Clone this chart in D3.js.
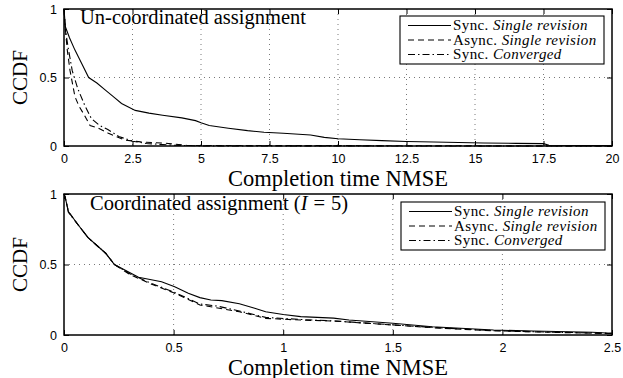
<!DOCTYPE html>
<html>
<head>
<meta charset="utf-8">
<script src="https://cdn.jsdelivr.net/npm/d3@7"></script>
<style>
  body { margin: 0; background: #fff; }
  svg { display: block; }
  .tick text { font-family: "Liberation Sans", Arial, sans-serif; font-size: 12.5px; }
  .serif { font-family: "Liberation Serif", "Times New Roman", serif; }
</style>
</head>
<body>
<div id="chart"></div>
<script>
// Top panel: un-coordinated assignment
const topSyncX = [0, 0.05, 0.2, 0.4, 0.65, 0.9, 1.2, 1.5, 1.8, 2.1, 2.6, 3.1, 3.6, 4.3, 4.8, 5.0, 5.3, 6.0, 6.7, 7.3, 8.0, 9.0, 9.5, 10, 10.8, 11.6, 12.5, 13.5, 15.3, 16.5, 17.5, 17.7, 20];
const topSyncY = [1, 0.87, 0.79, 0.70, 0.6, 0.5, 0.46, 0.41, 0.36, 0.31, 0.26, 0.24, 0.225, 0.205, 0.185, 0.17, 0.15, 0.13, 0.112, 0.1, 0.093, 0.08, 0.063, 0.053, 0.046, 0.039, 0.033, 0.029, 0.022, 0.019, 0.017, 0.005, 0.003];
const topAsyncX = [0, 0.05, 0.12, 0.22, 0.4, 0.55, 0.7, 0.95, 1.25, 1.6, 2.2, 2.8, 3.7, 4.5, 20];
const topAsyncY = [1, 0.85, 0.7, 0.55, 0.36, 0.29, 0.24, 0.15, 0.13, 0.095, 0.044, 0.03, 0.02, 0.004, 0];
const topConvX = [0, 0.05, 0.15, 0.3, 0.5, 0.75, 1.0, 1.3, 1.6, 2.0, 2.5, 3.0, 4.0, 5.0, 20];
const topConvY = [1, 0.85, 0.72, 0.55, 0.42, 0.3, 0.2, 0.15, 0.12, 0.07, 0.035, 0.018, 0.006, 0.001, 0];

// Bottom panel: coordinated assignment (I = 5)
const botSyncX = [0, 0.005, 0.02, 0.065, 0.11, 0.19, 0.23, 0.34, 0.445, 0.505, 0.567, 0.62, 0.67, 0.72, 0.8, 0.87, 0.92, 1.0, 1.08, 1.23, 1.3, 1.5, 1.68, 1.96, 2.14, 2.41, 2.5];
const botSyncY = [1, 0.98, 0.875, 0.78, 0.69, 0.58, 0.5, 0.41, 0.378, 0.343, 0.296, 0.265, 0.248, 0.244, 0.222, 0.19, 0.165, 0.145, 0.13, 0.12, 0.106, 0.083, 0.059, 0.035, 0.028, 0.019, 0.012];
const botAsyncX = [0, 0.005, 0.02, 0.065, 0.11, 0.19, 0.23, 0.3, 0.4, 0.5, 0.62, 0.67, 0.8, 0.92, 1.08, 1.23, 1.5, 1.7, 1.96, 2.2, 2.5];
const botAsyncY = [1, 0.98, 0.875, 0.78, 0.69, 0.58, 0.5, 0.43, 0.36, 0.3, 0.213, 0.2, 0.165, 0.118, 0.106, 0.099, 0.071, 0.05, 0.03, 0.02, 0.01];
const botConvX = [0, 0.005, 0.02, 0.065, 0.11, 0.19, 0.23, 0.3, 0.4, 0.5, 0.62, 0.7, 0.8, 0.92, 1.08, 1.23, 1.5, 1.7, 1.96, 2.2, 2.5];
const botConvY = [1, 0.98, 0.87, 0.78, 0.69, 0.58, 0.5, 0.435, 0.365, 0.305, 0.22, 0.205, 0.17, 0.125, 0.11, 0.1, 0.072, 0.052, 0.031, 0.021, 0.012];

const topXTicks = [0, 2.5, 5, 7.5, 10, 12.5, 15, 17.5, 20];
const botXTicks = [0, 0.5, 1, 1.5, 2, 2.5];
const yTicks = [0, 0.5, 1];
const seriesNames = [["Sync. ", "Single revision"], ["Async. ", "Single revision"], ["Sync. ", "Converged"]];
const dashes = [null, "6,4", "7,3,1.5,3"];

const W = 623, H = 378;
const svg = d3.select("#chart").append("svg").attr("width", W).attr("height", H);

function zip(xs, ys) { return xs.map((x, i) => [x, ys[i]]); }

function panel(opt) {
  const g = svg.append("g");
  const x = d3.scaleLinear().domain(opt.xDomain).range([64, 612]);
  const y = d3.scaleLinear().domain([0, 1]).range([opt.bottom, opt.top]);

  // grid
  g.selectAll(".vg").data(opt.xTicks.slice(1, -1)).enter().append("line")
    .attr("x1", d => x(d)).attr("x2", d => x(d))
    .attr("y1", opt.top).attr("y2", opt.bottom)
    .attr("stroke", "#555").attr("stroke-width", 0.8).attr("stroke-dasharray", "1,4");
  g.append("line")
    .attr("x1", 64).attr("x2", 612).attr("y1", y(0.5)).attr("y2", y(0.5))
    .attr("stroke", "#555").attr("stroke-width", 0.8).attr("stroke-dasharray", "1,4");

  // axes
  g.append("g").attr("transform", `translate(0,${opt.bottom})`)
    .call(d3.axisBottom(x).tickValues(opt.xTicks).tickSize(-5).tickPadding(8)
      .tickFormat(d3.format("")));
  g.append("g").attr("transform", "translate(64,0)")
    .call(d3.axisLeft(y).tickValues(yTicks).tickSize(-5).tickPadding(7).tickFormat(d3.format("")));
  g.append("g").attr("transform", `translate(0,${opt.top})`)
    .call(d3.axisTop(x).tickValues(opt.xTicks).tickSize(-5).tickFormat(""));
  g.append("g").attr("transform", "translate(612,0)")
    .call(d3.axisRight(y).tickValues(yTicks).tickSize(-5).tickFormat(""));
  g.selectAll(".domain").remove();
  g.selectAll(".tick line").attr("stroke", "#000");
  g.selectAll(".tick text").attr("fill", "#000");

  g.append("rect").attr("x", 64).attr("y", opt.top)
    .attr("width", 548).attr("height", opt.bottom - opt.top)
    .attr("fill", "none").attr("stroke", "#000").attr("stroke-width", 1.5);

  // series
  const line = d3.line().x(d => x(d[0])).y(d => y(d[1]));
  opt.series.forEach((s, i) => {
    g.append("path").datum(s).attr("d", line)
      .attr("fill", "none").attr("stroke", "#000").attr("stroke-width", 1.1)
      .attr("stroke-dasharray", dashes[i]);
  });

  // title inside plot
  const t = g.append("text").attr("class", "serif").attr("x", opt.titleX).attr("y", opt.titleY)
    .attr("font-size", 20.5).attr("fill", "#000");
  opt.title(t);

  // axis labels
  g.append("text").attr("class", "serif").attr("x", 338).attr("y", opt.bottom + 39.5)
    .attr("text-anchor", "middle").attr("font-size", 22.5).text("Completion time NMSE");
  g.append("text").attr("class", "serif")
    .attr("transform", `translate(27,${(opt.top + opt.bottom) / 2}) rotate(-90)`)
    .attr("text-anchor", "middle").attr("font-size", 21).text("CCDF");

  // legend
  const lg = g.append("g");
  lg.append("rect").attr("x", opt.legend[0]).attr("y", opt.legend[1])
    .attr("width", 204).attr("height", 48)
    .attr("fill", "#fff").attr("stroke", "#000").attr("stroke-width", 1.1);
  seriesNames.forEach((n, i) => {
    const ly = opt.legend[1] + 9.5 + i * 14.5;
    lg.append("line").attr("x1", opt.legend[0] + 8).attr("x2", opt.legend[0] + 51)
      .attr("y1", ly).attr("y2", ly).attr("stroke", "#000").attr("stroke-width", 1.1)
      .attr("stroke-dasharray", dashes[i]);
    const tx = lg.append("text").attr("class", "serif").attr("x", opt.legend[0] + 53)
      .attr("y", ly + 4.5).attr("font-size", 15).attr("letter-spacing", 0.4);
    tx.append("tspan").text(n[0]);
    tx.append("tspan").attr("font-style", "italic").text(n[1]);
  });
}

panel({
  top: 9, bottom: 146, xDomain: [0, 20], xTicks: topXTicks,
  series: [zip(topSyncX, topSyncY), zip(topAsyncX, topAsyncY), zip(topConvX, topConvY)],
  titleX: 80, titleY: 24,
  title: t => t.text("Un-coordinated assignment"),
  legend: [400, 16]
});

panel({
  top: 194, bottom: 335, xDomain: [0, 2.5], xTicks: botXTicks,
  series: [zip(botSyncX, botSyncY), zip(botAsyncX, botAsyncY), zip(botConvX, botConvY)],
  titleX: 90, titleY: 210,
  title: t => {
    t.append("tspan").text("Coordinated assignment (");
    t.append("tspan").attr("font-style", "italic").text("I");
    t.append("tspan").attr("dx", 6).text("=");
    t.append("tspan").attr("dx", 6).text("5)");
  },
  legend: [401, 202]
});
</script>
</body>
</html>
